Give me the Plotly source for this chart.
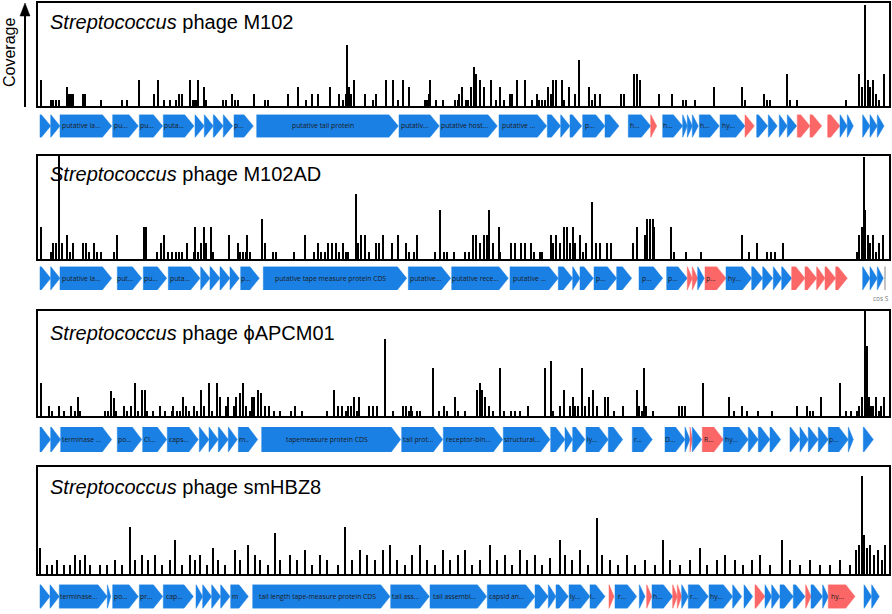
import plotly.graph_objects as go

W, H = 892, 614

# ------------------------------------------------------------------ data
titles = [
    "<i>Streptococcus</i> phage M102",
    "<i>Streptococcus</i> phage M102AD",
    "<i>Streptococcus</i> phage ϕAPCM01",
    "<i>Streptococcus</i> phage smHBZ8",
]

# coverage: genome position (bin, genome split into 853 bins) and read coverage
cov1_pos = [4, 14, 16, 19, 22, 30, 32, 34, 36, 46, 48, 64, 85, 90, 102, 117, 121, 127, 133, 139, 142, 145, 153, 156, 158, 160, 161, 167, 169, 186, 189, 195, 198, 201, 217, 228, 231, 251, 261, 269, 275, 281, 293, 302, 306, 309, 310, 312, 314, 317, 328, 336, 339, 349, 356, 361, 366, 372, 388, 390, 392, 393, 399, 406, 418, 421, 422, 425, 429, 431, 434, 437, 439, 443, 447, 454, 459, 463, 467, 473, 475, 480, 488, 495, 500, 502, 505, 508, 511, 514, 516, 519, 525, 527, 532, 538, 542, 552, 555, 558, 563, 584, 587, 597, 600, 603, 622, 635, 646, 649, 658, 677, 705, 708, 727, 730, 733, 750, 753, 760, 809, 822, 825, 828, 831, 833, 836, 839, 842, 847]
cov1_val = [4, 1, 1, 1, 1, 3, 2, 2, 2, 2, 2, 1, 1, 1, 4, 2, 4, 1, 1, 1, 2, 2, 4, 1, 1, 1, 4, 3, 1, 1, 1, 2, 1, 1, 2, 1, 1, 2, 3, 1, 2, 2, 3, 2, 1, 2, 9.3, 3, 2, 4, 2, 1, 2, 4, 4, 1, 4, 3, 1, 1, 2, 4, 1, 1, 1, 1, 2, 3, 1, 1, 3, 6, 5, 4, 3, 4, 1, 3, 1, 2, 2, 4, 4, 1, 2, 1, 1, 1, 3, 2, 4, 4, 4, 1, 3, 2, 7, 3, 1, 2, 2, 2, 2, 5, 5, 4, 2, 2, 1, 1, 1, 3, 3, 1, 2, 1, 1, 5, 1, 1, 1, 5, 3, 15.2, 4, 3, 4, 2, 1, 5]

cov2_pos = [4, 14, 16, 19, 22, 25, 30, 33, 36, 46, 49, 52, 57, 60, 64, 77, 80, 107, 109, 120, 124, 127, 131, 135, 139, 142, 145, 150, 157, 158, 161, 164, 167, 169, 174, 176, 192, 201, 203, 206, 209, 210, 213, 225, 228, 236, 239, 257, 268, 277, 281, 284, 288, 291, 295, 299, 302, 306, 309, 311, 319, 321, 324, 328, 332, 339, 342, 346, 355, 361, 369, 372, 377, 380, 398, 403, 407, 410, 417, 428, 432, 436, 439, 443, 447, 450, 452, 456, 462, 463, 474, 478, 484, 488, 494, 497, 503, 505, 514, 516, 519, 523, 527, 530, 533, 536, 538, 543, 546, 549, 555, 559, 563, 570, 574, 596, 600, 608, 610, 613, 616, 617, 634, 637, 649, 664, 705, 712, 720, 730, 734, 738, 746, 820, 822, 825, 827, 828, 831, 833, 836, 839, 842, 846]
cov2_val = [4, 1, 2, 2, 12.5, 2, 3, 1, 2, 2, 2, 1, 2, 1, 1, 1, 3, 4, 4, 1, 2, 3, 1, 1, 1, 1, 1, 2, 1, 4, 1, 2, 4, 2, 4, 1, 3, 2, 1, 1, 1, 3, 1, 5, 2, 1, 1, 1, 3, 1, 2, 1, 1, 2, 2, 2, 1, 2, 1, 1, 8, 2, 3, 3, 1, 2, 2, 3, 2, 3, 2, 1, 1, 3, 1, 6, 1, 1, 1, 1, 1, 3, 3, 2, 3, 3, 6, 2, 4, 1, 2, 2, 2, 2, 2, 1, 1, 1, 3, 2, 3, 2, 4, 4, 2, 4, 2, 3, 1, 2, 7, 2, 2, 2, 2, 2, 4, 3, 5, 5, 5, 4, 4, 1, 1, 1, 3, 1, 2, 1, 1, 1, 2, 1, 3, 4, 12.4, 6, 3, 2, 3, 1, 2, 3]

cov3_pos = [4, 12, 15, 22, 27, 34, 38, 41, 43, 68, 71, 74, 77, 79, 87, 90, 94, 98, 101, 105, 108, 110, 116, 123, 128, 135, 136, 140, 143, 146, 149, 152, 157, 160, 164, 167, 172, 175, 180, 183, 189, 191, 197, 199, 203, 206, 209, 213, 215, 217, 221, 224, 228, 232, 237, 243, 254, 258, 265, 290, 297, 301, 305, 309, 311, 314, 317, 320, 322, 332, 336, 340, 348, 356, 366, 369, 372, 374, 375, 380, 383, 396, 402, 407, 410, 418, 421, 428, 440, 443, 445, 448, 452, 456, 463, 467, 474, 478, 483, 491, 508, 514, 516, 523, 527, 533, 536, 538, 541, 545, 548, 552, 556, 560, 568, 571, 577, 586, 600, 602, 605, 607, 609, 616, 642, 645, 648, 666, 692, 697, 705, 710, 721, 735, 760, 770, 773, 776, 784, 803, 809, 814, 820, 822, 825, 828, 830, 832, 834, 836, 839, 842, 844, 847]
cov3_val = [6, 2, 1, 2, 1, 2, 1, 3.6, 1, 1, 1, 4.5, 3.4, 1, 2, 1, 2, 6, 1, 4.8, 4.8, 1, 1, 2, 1, 1, 2, 1, 1, 3.6, 2, 1, 2, 1, 4.8, 2, 6, 1, 6, 3.6, 2, 3.6, 2, 3.6, 4.2, 6, 2, 1, 3.6, 3.6, 4.8, 4.2, 2, 2, 1, 1, 1, 2, 1, 1, 4.8, 2, 2, 1, 2, 2, 3.6, 1, 3.6, 2, 2, 2, 13.7, 1, 2, 2, 1, 2, 1, 1, 1, 8.6, 1, 2, 1, 3.6, 1, 1, 4.8, 6, 4.8, 3.6, 2, 1, 8.6, 1, 1, 1, 1, 2, 8.6, 9.8, 1, 2, 4.8, 2, 3.6, 2, 2, 8.6, 2, 3.6, 4.8, 2, 3.6, 3.6, 1, 2, 4.8, 2, 1, 8.6, 2, 1, 2, 2, 2, 6, 3.6, 1, 2, 1, 1, 1, 2, 2, 1, 1, 3.6, 6, 1, 1, 1, 2, 3.6, 18.6, 12.5, 3.6, 2, 2, 3.6, 1, 2, 3.6]

cov4_pos = [3, 10, 15, 20, 27, 33, 38, 43, 48, 53, 63, 70, 78, 85, 93, 98, 105, 111, 118, 125, 133, 138, 145, 153, 158, 163, 170, 176, 181, 188, 198, 203, 211, 218, 223, 231, 238, 243, 253, 260, 268, 275, 283, 290, 301, 308, 315, 323, 330, 338, 346, 353, 360, 368, 375, 383, 390, 398, 406, 413, 421, 428, 435, 443, 453, 460, 468, 475, 483, 490, 498, 505, 513, 523, 528, 535, 543, 551, 560, 565, 573, 581, 590, 598, 608, 618, 626, 633, 643, 653, 663, 670, 680, 688, 698, 706, 715, 723, 733, 745, 753, 763, 773, 783, 793, 803, 813, 819, 822, 825, 827, 830, 833, 837, 841, 845, 848]
cov4_val = [5.4, 2, 2, 3, 2, 2, 4, 3, 4, 2, 2, 2, 3, 2, 9.6, 3, 4, 3, 4, 2, 3, 7, 2, 4, 3, 4, 2, 5.4, 3, 2, 5, 3, 6, 4, 3, 2, 8.4, 3, 4, 3, 5, 2, 4, 3, 2, 9.6, 3, 5, 4, 3, 5, 6, 3, 2, 4, 6, 3, 2, 5, 3, 4, 5, 2, 3, 6, 3, 4, 2, 5, 3, 4, 2, 3.4, 7, 4, 3, 5, 2, 11.4, 4, 3, 2, 4, 2, 3, 2, 7, 3, 2, 3, 5.4, 2, 3, 4, 3, 2, 3, 4, 2, 7, 3, 2, 3, 2, 2, 3, 2, 5, 6, 19.8, 8, 5.4, 6, 4, 5, 3, 6]

# genes: start / end (bins), colour class, label
g1_start = [3, 13.7, 23, 75.7, 102.3, 126.3, 158, 167.3, 176.3, 186.3, 197, 219.7, 362, 403, 462, 510.3, 523.7, 533, 545.7, 568, 591.3, 613.7, 625.7, 645.7, 650.3, 655.3, 662.3, 683, 708, 719.7, 731.3, 742.3, 750.3, 760.3, 773, 790.7, 803, 810.3, 825.7, 833, 840.3]
g1_end = [13.7, 23, 74.7, 101.3, 125.7, 157, 167.3, 176.3, 186.3, 195.7, 216.3, 361.3, 402.3, 460.3, 509.7, 523.7, 533, 544.7, 568, 582, 613.7, 619.7, 645.7, 650.3, 655.3, 661.3, 682.3, 708, 717.3, 730.7, 740.3, 750.3, 759.7, 773, 784.7, 803, 810.3, 816.3, 833, 840.3, 847]
g1_kind = list("bbbbbbbbbbbbbbbbbbbbbrbbbbbbrbbbbrrrbbbbb")
g1_label = ["", "", "putative la...", "pu...", "pu...", "puta...", "", "", "", "", "p...", "putative tail protein", "putativ...", "putative host...", "putative ...", "", "", "", "p...", "", "h...", "", "h...", "", "", "", "h...", "hy...", "", "", "", "", "", "", "", "", "", "", "", "", ""]

g2_start = [3, 13.7, 23, 80.3, 106.3, 131.3, 163.7, 173, 183, 193, 203.7, 226.3, 371.3, 414.7, 473, 521.3, 535.7, 543, 557, 579.7, 602, 629.7, 650.3, 655.3, 660.7, 668, 689, 714.7, 725.7, 736.3, 744.7, 754.7, 768, 779.7, 788, 798.7, 825.7, 833, 840.3]
g2_end = [13.7, 23, 74.7, 104.7, 129.7, 163, 173, 183, 193, 202.3, 222.3, 369.7, 413.7, 471.3, 521.3, 535.7, 543, 556.3, 579.7, 594.7, 625.7, 650.3, 655.3, 660.7, 667.3, 689, 714.7, 725.7, 735.7, 744.7, 754.7, 768, 779.7, 788, 798.7, 810.3, 833, 840.3, 846.3]
g2_kind = list("bbbbbbbbbbbbbbbbbbbbbbrrbrbbbbbrrrrrbbb")
g2_label = ["", "", "putative la...", "put...", "pu...", "puta...", "", "", "", "", "p...", "putative tape measure protein CDS", "putative...", "putative rece...", "putative ...", "", "", "", "p...", "", "p...", "p...", "", "", "", "p...", "hy...", "", "", "", "", "", "", "", "", "", "", "", ""]
g2_site_pos = 848
g2_site_label = "cos S"

g3_start = [3, 13.7, 23.7, 80.3, 105.7, 130.3, 162.3, 172, 181.3, 191.3, 201.3, 224.7, 364.7, 406.3, 466.3, 513.7, 528, 535.7, 549, 571.3, 595.3, 628, 648, 653, 655.3, 665.3, 686.3, 711.3, 721.3, 733, 753, 763, 771.3, 781.3, 791.3, 811.3, 826.3]
g3_end = [13.7, 23.7, 74.7, 104.7, 129.7, 161.3, 172, 181.3, 191.3, 200.3, 220.7, 363.7, 405.7, 465.7, 513, 528, 535.7, 548, 571.3, 585.7, 615.3, 648, 653, 655.3, 664.7, 686.3, 711.3, 721.3, 733, 743.7, 763, 771.3, 781.3, 791.3, 811.3, 816.3, 836.3]
g3_kind = list("bbbbbbbbbbbbbbbbbbbbbbbrbrbbbbbbbbbbb")
g3_label = ["", "", "terminase ...", "po...", "Cl...", "caps...", "", "", "", "", "m..", "tapemeasure protein CDS", "tail prot...", "receptor-bin...", "structural...", "", "", "", "ly...", "", "r...", "D...", "", "", "", "R...", "hy...", "", "", "", "", "", "", "", "p...", "", ""]

g4_start = [3, 13, 22.3, 70.3, 75.7, 102.3, 126.3, 159, 165.7, 174.7, 183.7, 193.7, 215.7, 353.7, 393, 450.3, 498, 511.3, 519, 532, 553, 572, 578, 602.3, 609.7, 615, 635.7, 640.3, 644.7, 651.3, 672, 695.7, 707, 718, 728, 734.7, 743, 756.3, 768.7, 774, 785.7, 791.3, 827, 834.7]
g4_end = [13, 22.3, 70.3, 73.7, 101.3, 125.7, 156.3, 165.7, 174.7, 183.7, 193, 211.3, 353, 392.3, 449.7, 498, 511.3, 519, 531.3, 553, 568, 577, 599.7, 608, 614.7, 635.7, 640.3, 644.7, 651.3, 671.3, 695.7, 704.7, 715.7, 728, 734.7, 743, 756.3, 768, 774, 785.7, 791.3, 818, 834.7, 842.3]
g4_kind = list("bbbbbbbbbbbbbbbbbbbbbrbbrbrrbbbbbrbbbbrbbrbb")
g4_label = ["", "", "terminase...", "", "po...", "pr...", "cap...", "", "", "", "", "m", "tail length tape-measure protein CDS", "tail ass...", "tail assembl...", "capsid an...", "", "", "", "ly...", "l..", "", "r...", "", "", "h...", "", "", "", "r...", "hy...", "", "", "", "", "", "", "", "", "", "", "hy...", "", ""]

GENOME_BINS = 853

# ------------------------------------------------------------------ styling / layout
BLUE = "#1b80e4"
RED = "#fb6767"
HEAD = 9.5  # arrow head length in bins

# per panel pixel geometry: coverage box top/bottom, gene track top/bottom, title centre, y max
geo = [
    (2, 107, 114.5, 137.5, 22, 15.7),
    (155, 260, 266.5, 290.0, 174, 12.65),
    (310, 417, 427.0, 452.0, 333, 18.8),
    (466, 575, 584.5, 608.5, 487, 21.8),
]
covs = [(cov1_pos, cov1_val), (cov2_pos, cov2_val), (cov3_pos, cov3_val), (cov4_pos, cov4_val)]
genes = [
    (g1_start, g1_end, g1_kind, g1_label),
    (g2_start, g2_end, g2_kind, g2_label),
    (g3_start, g3_end, g3_kind, g3_label),
    (g4_start, g4_end, g4_kind, g4_label),
]

X0, X1 = 37, 890


def py(p):
    return 1 - p / H


fig = go.Figure()
shapes = []
annotations = []
layout_axes = {}

for i in range(4):
    ctop, cbot, ttop, tbot, ty, ymax = geo[i]
    cy_name = "y" if i == 0 else f"y{2 * i + 1}"
    ty_name = f"y{2 * i + 2}"
    cy_key = "yaxis" if i == 0 else f"yaxis{2 * i + 1}"
    ty_key = f"yaxis{2 * i + 2}"
    layout_axes[cy_key] = dict(domain=[py(cbot), py(ctop)], range=[0, ymax], visible=False,
                               anchor="x", fixedrange=True)
    layout_axes[ty_key] = dict(domain=[py(tbot), py(ttop)], range=[0, 1], visible=False,
                               anchor="x", fixedrange=True)

    pos, val = covs[i]
    fig.add_trace(go.Bar(x=pos, y=val, xaxis="x", yaxis=cy_name, width=1.0,
                         marker=dict(color="black", line=dict(width=0)),
                         showlegend=False, hoverinfo="skip"))

    # coverage box
    shapes.append(dict(type="rect", xref="paper", yref="paper",
                       x0=X0 / W, x1=X1 / W, y0=py(cbot), y1=py(ctop),
                       line=dict(color="black", width=2), fillcolor="rgba(0,0,0,0)", layer="above"))

    # title
    annotations.append(dict(text=titles[i], xref="paper", yref="paper", x=48 / W, y=py(ty),
                            xanchor="left", yanchor="middle", showarrow=False,
                            font=dict(family="Liberation Sans, Arial", size=20, color="black")))

    # genes
    gs, ge, gk, gl = genes[i]
    for s, e, k, lab in zip(gs, ge, gk, gl):
        xh = max(s, e - HEAD)
        path = f"M {s},0 L {s},1 L {xh},1 L {e},0.5 L {xh},0 Z"
        col = RED if k == "r" else BLUE
        shapes.append(dict(type="path", xref="x", yref=ty_name, path=path,
                           fillcolor=col, line=dict(color=col, width=0.5), layer="above"))
        if lab:
            annotations.append(dict(text=lab, xref="x", yref=ty_name, x=(s + xh) / 2 + 0.5, y=0.5,
                                    xanchor="center", yanchor="middle", showarrow=False,
                                    font=dict(family="Open Sans", size=6.8, color="#1a1a1a")))

# cos site marker on panel 2
shapes.append(dict(type="line", xref="x", yref="y4", x0=g2_site_pos, x1=g2_site_pos, y0=-0.05, y1=1.05,
                   line=dict(color="#9a9a9a", width=1.2)))
annotations.append(dict(text=g2_site_label, xref="x", yref="paper", x=g2_site_pos - 4, y=py(298),
                        xanchor="center", yanchor="middle", showarrow=False,
                        font=dict(family="Open Sans", size=6.5, color="#777777")))

# coverage axis arrow + label
shapes.append(dict(type="line", xref="paper", yref="paper", x0=25 / W, x1=25 / W, y0=py(107), y1=py(14),
                   line=dict(color="black", width=2)))
shapes.append(dict(type="path", xref="paper", yref="paper",
                   path=f"M {20 / W},{py(16)} L {25 / W},{py(3)} L {30 / W},{py(16)} Z",
                   fillcolor="black", line=dict(color="black", width=0.5)))
annotations.append(dict(text="Coverage", xref="paper", yref="paper", x=9 / W, y=py(53),
                        textangle=-90, xanchor="center", yanchor="middle", showarrow=False,
                        font=dict(family="Liberation Sans, Arial", size=16, color="black")))

fig.update_layout(
    width=W, height=H,
    margin=dict(l=0, r=0, t=0, b=0),
    paper_bgcolor="white", plot_bgcolor="rgba(0,0,0,0)",
    barmode="overlay", bargap=0,
    xaxis=dict(domain=[X0 / W, X1 / W], range=[0, GENOME_BINS], visible=False, anchor="y", fixedrange=True),
    shapes=shapes, annotations=annotations, showlegend=False,
    **layout_axes,
)

fig.write_html("out.html", config={"displayModeBar": False},
               post_script="document.body.style.margin='0';document.body.style.overflow='hidden';")
